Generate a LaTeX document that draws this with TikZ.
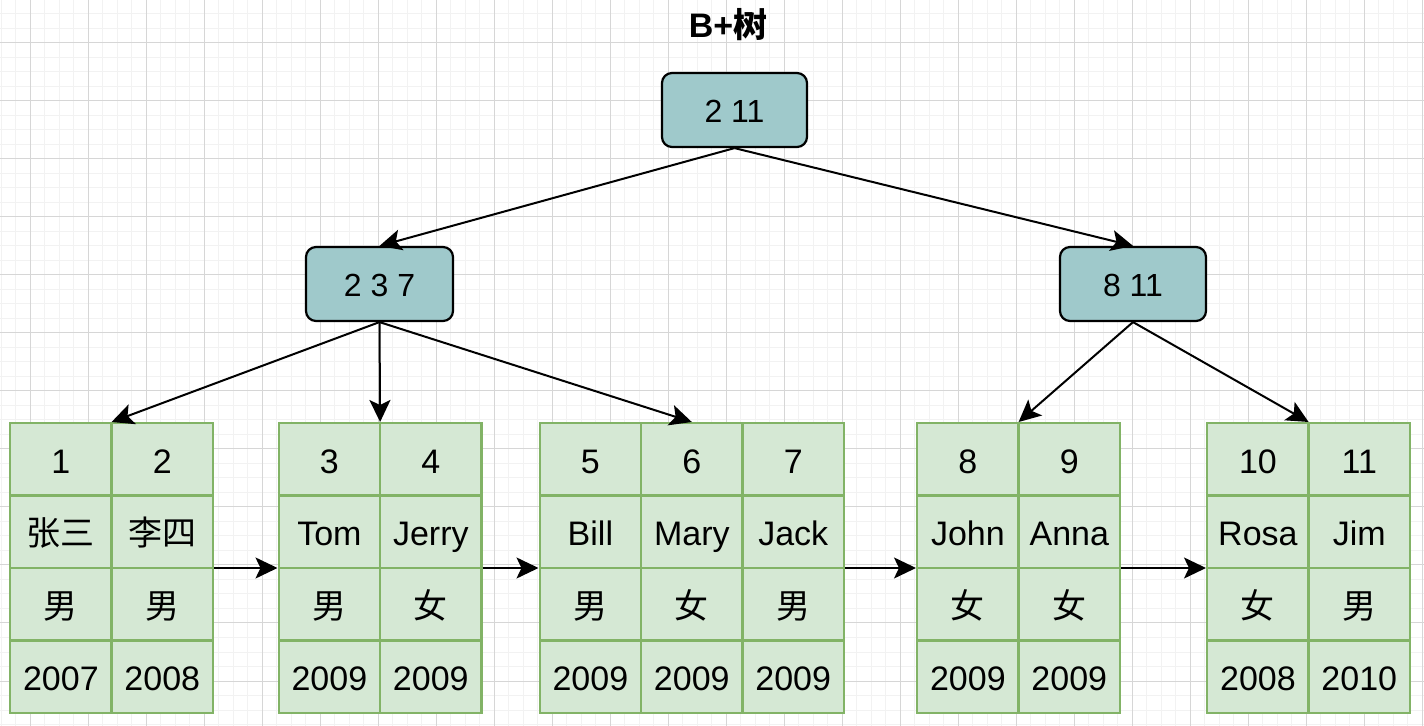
\documentclass[tikz,border=0pt]{standalone}
\usepackage{fontspec}
\setmainfont{Liberation Sans}
\newfontfamily\cjk{Noto Sans CJK SC}
\usetikzlibrary{arrows.meta,calc}
\definecolor{gridminor}{HTML}{F2F2F2}
\definecolor{gridmajor}{HTML}{D6D6D6}
\definecolor{inner}{HTML}{9FC9CB}
\definecolor{leaffill}{HTML}{D5E8D4}
\definecolor{leafline}{HTML}{82B366}
\tikzset{
  minorline/.style={gridminor, line width=0.5pt},
  majorline/.style={gridmajor, line width=0.5pt},
  innernode/.style={draw=black, fill=inner, line width=1.1pt, rounded corners=5pt,
    minimum height=37pt, font=\fontsize{16}{19}\selectfont, inner sep=0pt,
    text height=13pt, text depth=0pt},
  tbl/.style={draw=leafline, fill=leaffill, line width=1.2pt, anchor=north west, inner sep=0pt,
    minimum height=144.8pt},
  cell/.style={draw=leafline, line width=1.2pt, anchor=north west, inner sep=0pt,
    minimum width=50.7pt, minimum height=36.2pt, font=\fontsize{17}{20}\selectfont,
    text height=14pt, text depth=0pt},
  link/.style={draw=black, line width=1pt, -{Stealth[length=11pt, width=10.5pt, inset=2.5pt]}},
}
\newcommand\cellat[4]{\node[cell] at ($(#1.north west)+({#2*101.4},{#3*72.4})$) {#4};}
\begin{document}
\begin{tikzpicture}[x=0.5pt, y=-0.5pt]
\useasboundingbox[fill=white] (0,0) rectangle (1424,726);
% grid
\foreach \i in {0,...,101} { \draw[minorline] ({-28+14.5*\i},0) -- ({-28+14.5*\i},726); }
\foreach \i in {0,...,52} { \draw[minorline] (0,{-15+14.5*\i}) -- (1424,{-15+14.5*\i}); }
\foreach \i in {0,...,24} { \draw[majorline] ({30+58*\i},0) -- ({30+58*\i},726); }
\foreach \i in {0,...,12} { \draw[majorline] (0,{-15+58*\i}) -- (1424,{-15+58*\i}); }
% title
\node[font=\fontsize{17}{20}\selectfont\bfseries] (title) at (728,25) {B+{\cjk 树}};
% inner nodes
\node[innernode, minimum width=72.5pt] (root) at (734.5,110) {2 11};
\node[innernode, minimum width=73.5pt] (n237) at (379.5,284) {2 3 7};
\node[innernode, minimum width=73pt] (n811) at (1133,284) {8 11};
% leaf tables
\node[tbl, minimum width=101.4pt] (t1) at (9,422) {};
\node[tbl, minimum width=101.4pt] (t2) at (277.5,422) {};
\node[tbl, minimum width=152.1pt] (t3) at (538.5,422) {};
\node[tbl, minimum width=101.4pt] (t4) at (916,422) {};
\node[tbl, minimum width=101.4pt] (t5) at (1206,422) {};
% table 1
\cellat{t1}{0}{0}{1} \cellat{t1}{1}{0}{2}
\cellat{t1}{0}{1}{\cjk 张三} \cellat{t1}{1}{1}{\cjk 李四}
\cellat{t1}{0}{2}{\cjk 男} \cellat{t1}{1}{2}{\cjk 男}
\cellat{t1}{0}{3}{2007} \cellat{t1}{1}{3}{2008}
% table 2
\cellat{t2}{0}{0}{3} \cellat{t2}{1}{0}{4}
\cellat{t2}{0}{1}{Tom} \cellat{t2}{1}{1}{Jerry}
\cellat{t2}{0}{2}{\cjk 男} \cellat{t2}{1}{2}{\cjk 女}
\cellat{t2}{0}{3}{2009} \cellat{t2}{1}{3}{2009}
% table 3
\cellat{t3}{0}{0}{5} \cellat{t3}{1}{0}{6} \cellat{t3}{2}{0}{7}
\cellat{t3}{0}{1}{Bill} \cellat{t3}{1}{1}{Mary} \cellat{t3}{2}{1}{Jack}
\cellat{t3}{0}{2}{\cjk 男} \cellat{t3}{1}{2}{\cjk 女} \cellat{t3}{2}{2}{\cjk 男}
\cellat{t3}{0}{3}{2009} \cellat{t3}{1}{3}{2009} \cellat{t3}{2}{3}{2009}
% table 4
\cellat{t4}{0}{0}{8} \cellat{t4}{1}{0}{9}
\cellat{t4}{0}{1}{John} \cellat{t4}{1}{1}{Anna}
\cellat{t4}{0}{2}{\cjk 女} \cellat{t4}{1}{2}{\cjk 女}
\cellat{t4}{0}{3}{2009} \cellat{t4}{1}{3}{2009}
% table 5
\cellat{t5}{0}{0}{10} \cellat{t5}{1}{0}{11}
\cellat{t5}{0}{1}{Rosa} \cellat{t5}{1}{1}{Jim}
\cellat{t5}{0}{2}{\cjk 女} \cellat{t5}{1}{2}{\cjk 男}
\cellat{t5}{0}{3}{2008} \cellat{t5}{1}{3}{2010}
% tree edges
\draw[link] (root.south) -- (n237.north);
\draw[link] (root.south) -- (n811.north);
\draw[link] (n237.south) -- (t1.north);
\draw[link] (n237.south) -- (t2.north);
\draw[link] (n237.south) -- (t3.north);
\draw[link] (n811.south) -- (t4.north);
\draw[link] (n811.south) -- (t5.north);
% leaf links
\draw[link] (t1.east) -- (t2.west);
\draw[link] (t2.east) -- (t3.west);
\draw[link] (t3.east) -- (t4.west);
\draw[link] (t4.east) -- (t5.west);
\end{tikzpicture}
\end{document}
